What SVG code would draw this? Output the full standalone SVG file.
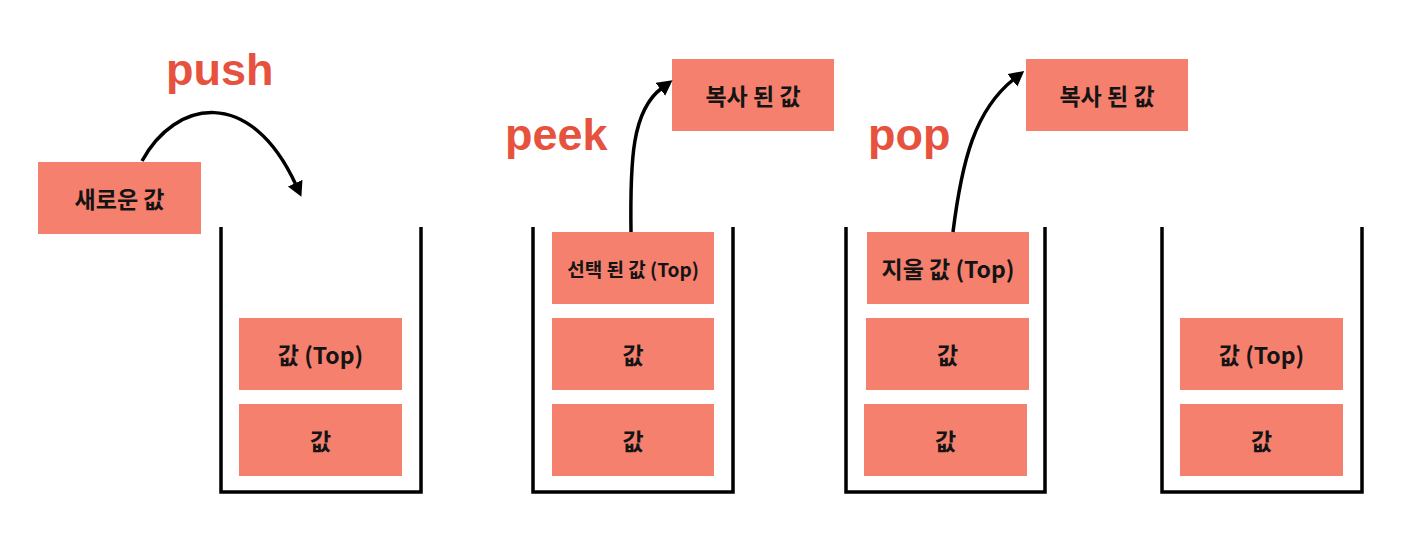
<svg xmlns="http://www.w3.org/2000/svg" width="1420" height="539" viewBox="0 0 1420 539">
<defs>
<style>
.box{fill:#F5806E;}
.lbl{font-family:"Noto Sans CJK KR","Liberation Sans",sans-serif;font-weight:bold;font-size:23px;fill:#141414;text-anchor:middle;dominant-baseline:central;}
.sm{font-size:19px;}
.title{font-family:"Liberation Sans",Arial,sans-serif;font-weight:bold;font-size:45px;fill:#E6523E;}
.cont{fill:none;stroke:#000;stroke-width:3.5;}
.arr{fill:none;stroke:#000;stroke-width:3.5;marker-end:url(#head);}
</style>
<marker id="head" markerUnits="userSpaceOnUse" markerWidth="18" markerHeight="18" refX="2" refY="8" orient="auto">
<path d="M0,0 L15,8 L0,16 z" fill="#000"/>
</marker>
</defs>
<rect width="1420" height="539" fill="#fff"/>

<g id="titles">
<text class="title" x="166" y="85">push</text>
<text class="title" x="505" y="150">peek</text>
<text class="title" x="868" y="150">pop</text>
</g>

<g id="containers">
<path id="stack1" class="cont" d="M221,227 V492 H421 V227"/>
<path id="stack2" class="cont" d="M533,227 V492 H733 V227"/>
<path id="stack3" class="cont" d="M846,227 V492 H1045 V227"/>
<path id="stack4" class="cont" d="M1162,227 V492 H1362 V227"/>
</g>

<g id="new-value"><rect class="box" x="38" y="162" width="163" height="72"/><text class="lbl" x="119.5" y="198">새로운 값</text></g>

<g id="s1-top"><rect class="box" x="239" y="318" width="163" height="72"/><text class="lbl" x="320.5" y="354">값 (Top)</text></g>
<g id="s1-v"><rect class="box" x="239" y="404" width="163" height="72"/><text class="lbl" x="320.5" y="440">값</text></g>

<g id="s2-top"><rect class="box" x="552" y="232" width="162" height="72"/><text class="lbl sm" x="633" y="268">선택 된 값 (Top)</text></g>
<g id="s2-v1"><rect class="box" x="552" y="318" width="162" height="72"/><text class="lbl" x="633" y="354">값</text></g>
<g id="s2-v2"><rect class="box" x="552" y="404" width="162" height="72"/><text class="lbl" x="633" y="440">값</text></g>
<g id="peek-copy"><rect class="box" x="672" y="59" width="162" height="72"/><text class="lbl" x="753" y="95">복사 된 값</text></g>

<g id="s3-top"><rect class="box" x="867" y="232" width="162" height="72"/><text class="lbl" x="948" y="268">지울 값 (Top)</text></g>
<g id="s3-v1"><rect class="box" x="866" y="318" width="163" height="72"/><text class="lbl" x="947.5" y="354">값</text></g>
<g id="s3-v2"><rect class="box" x="864" y="404" width="163" height="72"/><text class="lbl" x="945.5" y="440">값</text></g>
<g id="pop-copy"><rect class="box" x="1026" y="59" width="162" height="72"/><text class="lbl" x="1107" y="95">복사 된 값</text></g>

<g id="s4-top"><rect class="box" x="1180" y="318" width="163" height="72"/><text class="lbl" x="1261.5" y="354">값 (Top)</text></g>
<g id="s4-v"><rect class="box" x="1180" y="404" width="163" height="72"/><text class="lbl" x="1261.5" y="440">값</text></g>

<g id="connectors">
<path class="arr" d="M142,161 C175,100 250,85 296,185"/>
<path class="arr" d="M631,232 C630,160 632,110 662,88"/>
<path class="arr" d="M953,232 C962,160 975,110 1014,79"/>
</g>
</svg>
